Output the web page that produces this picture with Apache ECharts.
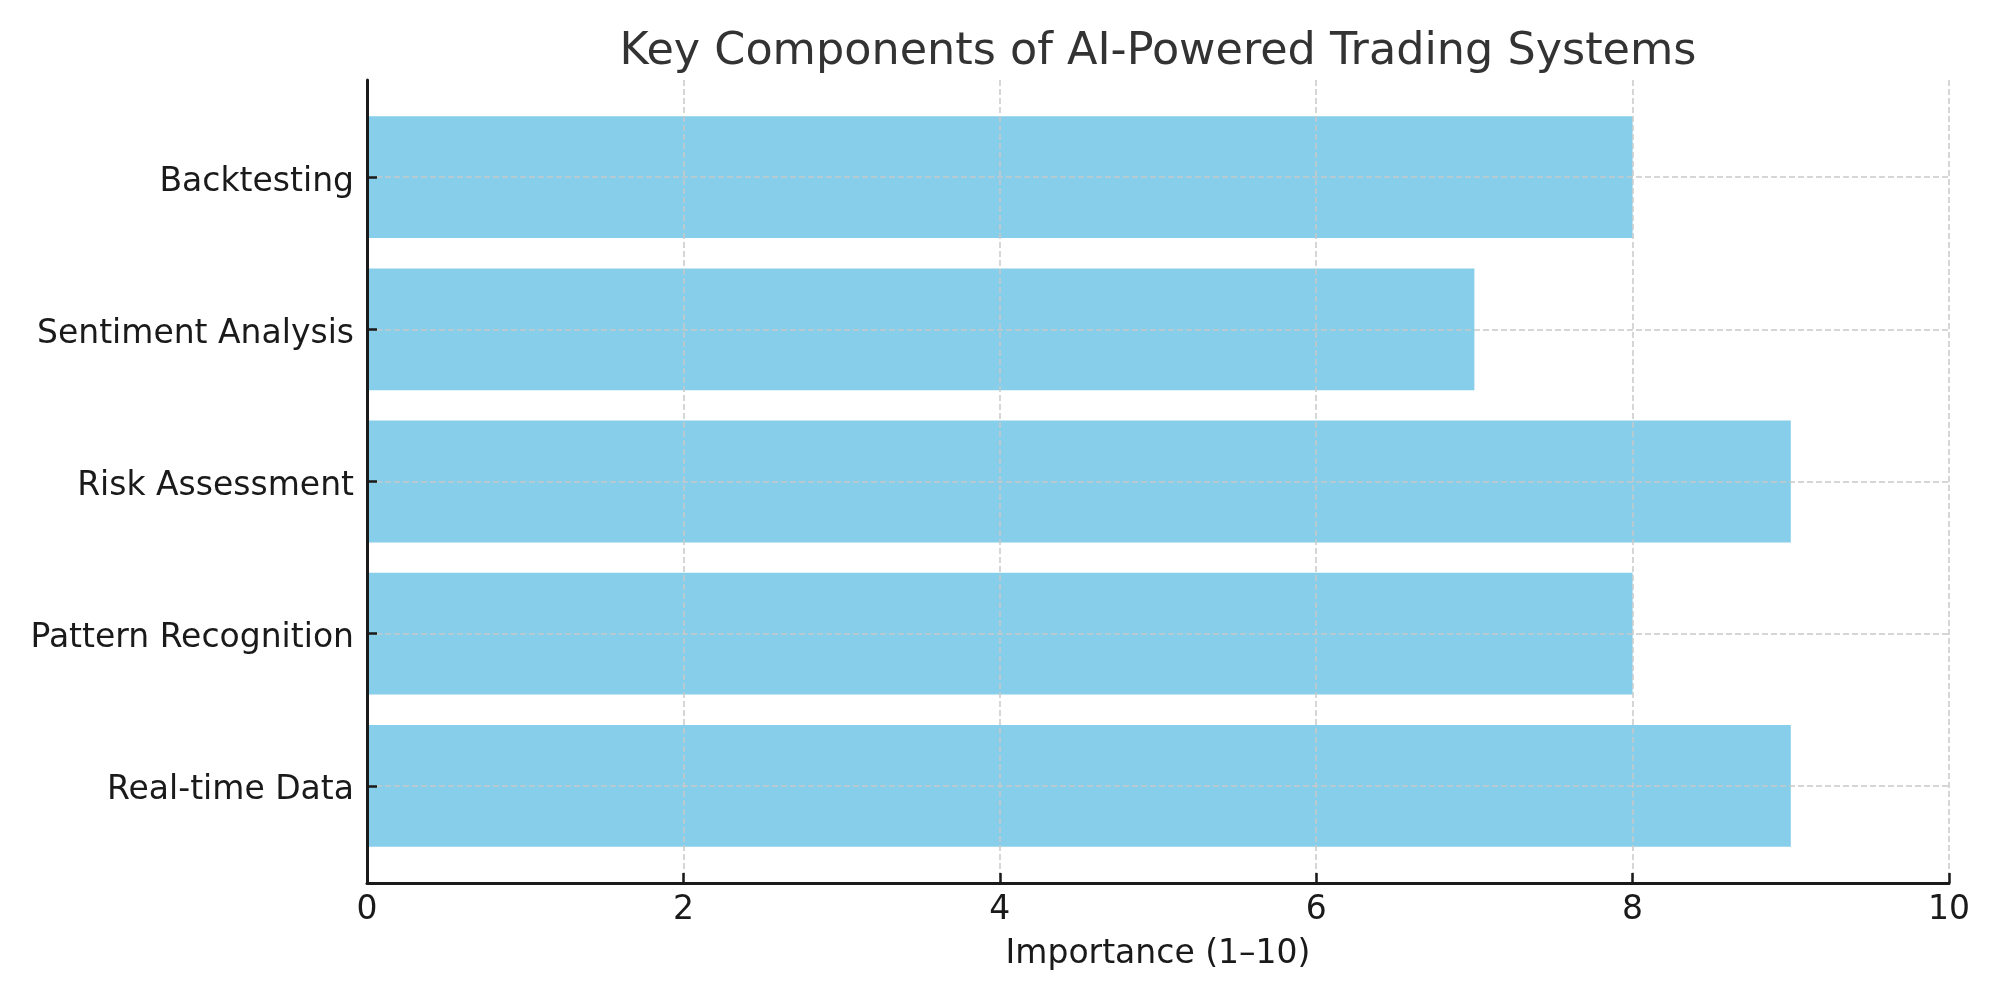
<!DOCTYPE html>
<html>
<head>
<meta charset="utf-8">
<title>Key Components of AI-Powered Trading Systems</title>
<script src="https://cdn.jsdelivr.net/npm/echarts@6/dist/echarts.min.js"></script>
<style>
	html, body { margin: 0; padding: 0; background: #fff; }
	#chart { width: 2000px; height: 1000px; }
</style>
</head>
<body>
<div id="chart"></div>
<script>
// data, bottom to top
const components = ['Real-time Data', 'Pattern Recognition', 'Risk Assessment', 'Sentiment Analysis', 'Backtesting'];
const importance = [9, 8, 9, 7, 8];
const xTicks = [0, 2, 4, 6, 8, 10];

const font = 'DejaVu Sans';
const gridLine = { show: true, lineStyle: { color: '#c9c9c9', width: 1.5, type: [6, 3] } };

const chart = echarts.init(document.getElementById('chart'), null, { renderer: 'canvas' });

const option = {
	backgroundColor: '#ffffff',
	animation: false,
	title: {
		text: 'Key Components of AI-Powered Trading Systems',
		left: 1153,
		textAlign: 'center',
		top: 25,
		textStyle: { fontFamily: font, fontSize: 44.5, fontWeight: 'normal', color: '#333333' },
	},
	// outer grid = full axes box, inner grid = the band area of the bars (matplotlib margins)
	grid: [
		{ left: 367, right: 51, top: 80, bottom: 117 },
		{ left: 367, right: 51, top: 101, bottom: 138 },
	],
	xAxis: [
		{
			gridIndex: 0,
			type: 'value',
			min: xTicks[0],
			max: xTicks[xTicks.length - 1],
			interval: 2,
			z: 5,
			axisLine: { show: true, lineStyle: { color: '#1a1a1a', width: 3 } },
			axisTick: { show: true, inside: true, length: 10, lineStyle: { color: '#1a1a1a', width: 2.5 } },
			axisLabel: { fontFamily: font, fontSize: 33, color: '#1a1a1a', margin: 11 },
			splitLine: gridLine,
			name: 'Importance (1–10)',
			nameLocation: 'middle',
			nameGap: 55,
			nameTextStyle: { fontFamily: font, fontSize: 33, color: '#1a1a1a' },
		},
		{ gridIndex: 1, type: 'value', min: 0, max: 10, show: false },
	],
	yAxis: [
		{
			gridIndex: 0,
			type: 'value',
			min: 0,
			max: 1,
			z: 5,
			axisLine: { show: true, lineStyle: { color: '#1a1a1a', width: 3 } },
			axisTick: { show: false },
			axisLabel: { show: false },
			splitLine: { show: false },
		},
		{
			gridIndex: 1,
			type: 'category',
			data: components,
			position: 'left',
			z: 5,
			axisLine: { show: false },
			axisTick: { show: true, inside: true, alignWithLabel: true, length: 10, lineStyle: { color: '#1a1a1a', width: 2.5 } },
			axisLabel: { fontFamily: font, fontSize: 33, color: '#1a1a1a', margin: 13, verticalAlign: 'top', lineHeight: 10 },
			splitLine: { show: false },
		},
		{
			// helper axis for horizontal grid lines at the bar centres
			gridIndex: 1,
			type: 'value',
			min: -0.5,
			max: components.length - 0.5,
			position: 'left',
			z: 5,
			axisLine: { show: false },
			axisTick: { show: false },
			axisLabel: { show: false },
			splitLine: Object.assign({ showMinLine: false, showMaxLine: false }, gridLine),
		},
	],
	series: [
		{
			type: 'bar',
			xAxisIndex: 1,
			yAxisIndex: 1,
			data: importance,
			barWidth: '80%',
			itemStyle: { color: '#87ceeb' },
			z: 2,
		},
	],
};

chart.setOption(option);
</script>
</body>
</html>
